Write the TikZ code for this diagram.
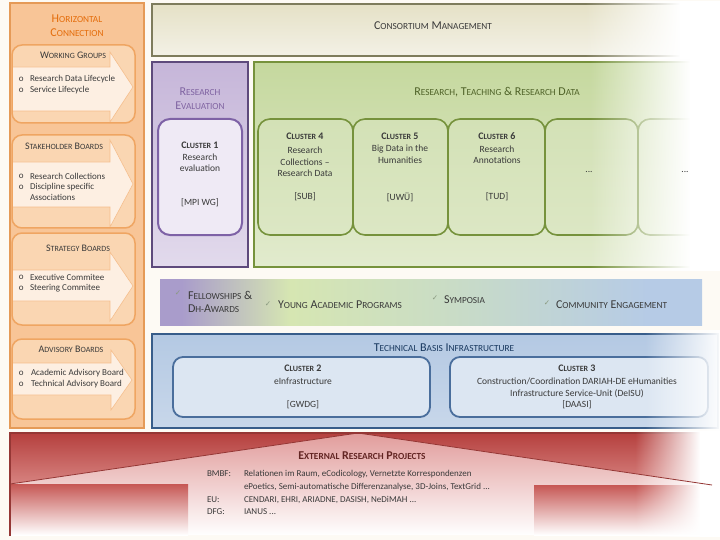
\documentclass[tikz,border=0pt]{standalone}
\usepackage{fontspec}
\setmainfont{Carlito}
\newfontfamily\djv{DejaVu Sans}
\usetikzlibrary{fadings}
\definecolor{bg}{HTML}{FDFAF4}
\definecolor{txt}{HTML}{3A3A3A}
\definecolor{orF}{HTML}{F8C597}
\definecolor{orB}{HTML}{E59A57}
\definecolor{subF}{HTML}{FAD6B2}
\definecolor{subB}{HTML}{EFA562}
\definecolor{arrF}{HTML}{FDEFE2}
\definecolor{arrB}{HTML}{F5BE8C}
\definecolor{orT}{HTML}{E46C0A}
\definecolor{consF}{HTML}{E5E1C6}
\definecolor{consF2}{HTML}{F3F1E6}
\definecolor{consB}{HTML}{7E7C5C}
\definecolor{purF}{HTML}{C6B6D9}
\definecolor{purF2}{HTML}{E2DAEC}
\definecolor{purB}{HTML}{5E4A7C}
\definecolor{purT}{HTML}{8064A2}
\definecolor{c1F}{HTML}{EFEAF5}
\definecolor{c1B}{HTML}{7E62A6}
\definecolor{grF}{HTML}{C5D89E}
\definecolor{grF2}{HTML}{E2EBCE}
\definecolor{grB}{HTML}{76923C}
\definecolor{grT}{HTML}{4F6228}
\definecolor{cgF}{HTML}{D3E1B6}
\definecolor{cgF2}{HTML}{DCE7C4}
\definecolor{cgB}{HTML}{76923C}
\definecolor{bandP}{HTML}{A99CCB}
\definecolor{bandG}{HTML}{D6E6B2}
\definecolor{bandG2}{HTML}{C9DCC6}
\definecolor{bandB}{HTML}{B6CBE6}
\definecolor{tF}{HTML}{B4C9E3}
\definecolor{tF2}{HTML}{C8D7EA}
\definecolor{tB}{HTML}{385D8A}
\definecolor{tT}{HTML}{17375E}
\definecolor{ctF}{HTML}{DCE6F2}
\definecolor{ctB}{HTML}{4A6E9C}
\definecolor{rD}{HTML}{B5403E}
\definecolor{rD2}{HTML}{D98784}
\definecolor{rM}{HTML}{E19C9B}
\definecolor{rLL}{HTML}{C65754}
\definecolor{rB}{HTML}{953735}
\definecolor{rT}{HTML}{632523}
\definecolor{chkC}{HTML}{8A9A80}
\pgfdeclarehorizontalshading{bandshade}{100bp}{color(0bp)=(bandP); color(27bp)=(bandP); color(37bp)=(bandG); color(52bp)=(bandG2); color(70bp)=(bandB); color(100bp)=(bandB)}
\tikzfading[name=fadeinR, left color=transparent!100, right color=transparent!0]
\newcommand\smA[1]{{\fontsize{9.3}{10}\selectfont\MakeUppercase{#1}}}
\newcommand\smB[1]{{\fontsize{8}{9}\selectfont\MakeUppercase{#1}}}
\begin{document}
\begin{tikzpicture}[x=1pt,y=-1pt,
  every node/.style={inner sep=0pt,outer sep=0pt,text=txt},
  vsh/.style 2 args={top color=#1, bottom color=#2},
  body/.style={font=\fontsize{9}{11}\selectfont},
  cbody/.style={font=\fontsize{9.5}{11.5}\selectfont},
  btitle/.style={font=\fontsize{12}{13}\selectfont},
  btitleb/.style={font=\bfseries\fontsize{12}{13}\selectfont},
  stitle/.style={font=\fontsize{10}{12}\selectfont},
  ctitle/.style={font=\bfseries\fontsize{10}{12}\selectfont},
  subbox/.style={fill=subF, rounded corners=10pt, minimum width=123pt, anchor=north west},
  subline/.style={draw=subB, line width=1.5pt, rounded corners=10pt},
  arrowst/.style={fill=arrF, draw=arrB, line width=0.6pt},
  gbox/.style={draw=cgB, line width=1.6pt, rounded corners=12pt, vsh={cgF}{cgF2}, anchor=north west, minimum height=116pt},
  tbox/.style={draw=ctB, line width=1.8pt, rounded corners=10pt, fill=ctF, anchor=north west, minimum height=60pt},
  chk/.style={font=\djv\fontsize{7.5}{8}\selectfont, text=chkC},
  whitefade/.style={fill=white, path fading=fadeinR},
  shadebox/.style={anchor=north west},
]
\useasboundingbox (0,0) rectangle (720,540);
\fill[bg] (0,0) rectangle (720,540);

% ---------- Horizontal connection ----------
\node[draw=orB, line width=1.5pt, fill=orF, anchor=north west, minimum width=134pt, minimum height=425pt] (hc) at (10,3) {};
\node[btitle, text=orT] (hct1) at (77,19) {H\smA{orizontal}};
\node[btitle, text=orT] (hct2) at (77,33) {C\smA{onnection}};

\node[subbox, minimum height=78pt] (wg) at (12,45) {};
\filldraw[arrowst] (12,67) -- (110,67) -- (110,52) -- (133,87) -- (110,122) -- (110,111) -- (12,111);
\draw[subline] (wg.north west) rectangle (wg.south east);
\node[stitle] (wgt) at (73,55) {W\smB{orking} G\smB{roups}};
\node[body, anchor=west] (wgb1) at (19,79) {o};
\node[body, anchor=west] (wgi1) at (30,79) {Research Data Lifecycle};
\node[body, anchor=west] (wgb2) at (19,90) {o};
\node[body, anchor=west] (wgi2) at (30,90) {Service Lifecycle};

\node[subbox, minimum height=93pt] (sb) at (12,135) {};
\filldraw[arrowst] (12,162) -- (110,162) -- (110,140) -- (133,184) -- (110,227) -- (110,207) -- (12,207);
\draw[subline] (sb.north west) rectangle (sb.south east);
\node[stitle] (sbt) at (64,146) {S\smB{takeholder} B\smB{oards}};
\node[body, anchor=west] (sbb1) at (19,176) {o};
\node[body, anchor=west] (sbi1) at (30,176) {Research Collections};
\node[body, anchor=west] (sbb2) at (19,187) {o};
\node[body, anchor=west, align=left] (sbi2) at (30,192) {Discipline specific\\Associations};

\node[subbox, minimum height=92pt] (st) at (12,233) {};
\filldraw[arrowst] (12,270) -- (110,270) -- (110,252) -- (133,286) -- (110,321) -- (110,301) -- (12,301);
\draw[subline] (st.north west) rectangle (st.south east);
\node[stitle] (stt) at (78,248) {S\smB{trategy} B\smB{oards}};
\node[body, anchor=west] (stb1) at (19,277) {o};
\node[body, anchor=west] (sti1) at (30,277) {Executive Commitee};
\node[body, anchor=west] (stb2) at (19,288) {o};
\node[body, anchor=west] (sti2) at (30,288) {Steering Commitee};

\node[subbox, minimum height=80pt] (ab) at (12,339) {};
\filldraw[arrowst] (12,363) -- (111,363) -- (111,350) -- (132,380) -- (111,410) -- (111,395) -- (12,395);
\draw[subline] (ab.north west) rectangle (ab.south east);
\node[stitle] (abt) at (71,349) {A\smB{dvisory} B\smB{oards}};
\node[body, anchor=west] (abb1) at (19,373) {o};
\node[body, anchor=west] (abi1) at (31,373) {Academic Advisory Board};
\node[body, anchor=west] (abb2) at (19,384) {o};
\node[body, anchor=west] (abi2) at (31,384) {Technical Advisory Board};

% ---------- Consortium management ----------
\node[draw=consB, line width=2.5pt, vsh={consF}{consF2}, anchor=north west, minimum width=566pt, minimum height=52pt] (cm) at (152,4) {};
\fill[whitefade] (585,1) rectangle (680,59);
\fill[white] (680,1) rectangle (720,59);
\node[btitle] (cmt) at (433,26) {C\smA{onsortium} M\smA{anagement}};

% ---------- Research evaluation ----------
\node[draw=purB, line width=2pt, vsh={purF}{purF2}, anchor=north west, minimum width=96pt, minimum height=205pt] (re) at (152,62) {};
\node[btitle, text=purT] (ret1) at (200,92) {R\smA{esearch}};
\node[btitle, text=purT] (ret2) at (200,106) {E\smA{valuation}};
\node[draw=c1B, line width=2pt, rounded corners=12pt, fill=c1F, anchor=north west, minimum width=84pt, minimum height=116pt] (c1) at (158,119) {};
\node[ctitle] (c1t) at (200,145) {C\smB{luster} 1};
\node[cbody] (c1a) at (200,157) {Research};
\node[cbody] (c1b) at (200,168) {evaluation};
\node[cbody] (c1c) at (200,203) {[MPI WG]};

% ---------- Research, teaching & research data ----------
\node[draw=grB, line width=2pt, vsh={grF}{grF2}, anchor=north west, minimum width=464pt, minimum height=205pt] (rt) at (254,62) {};
\node[gbox, minimum width=95pt] (c4) at (258,119) {};
\node[gbox, minimum width=95pt] (c5) at (353,119) {};
\node[gbox, minimum width=97pt] (c6) at (448,119) {};
\node[gbox, minimum width=93pt] (d1) at (545,119) {};
\node[gbox, minimum width=80pt] (d2) at (638,119) {};
\fill[whitefade] (590,58) rectangle (690,271);
\fill[white] (690,58) rectangle (720,271);
\node[btitle, text=grT] (rtt) at (497,92) {R\smA{esearch}, T\smA{eaching} \& R\smA{esearch} D\smA{ata}};
\node[ctitle] (c4t) at (305,136) {C\smB{luster} 4};
\node[cbody] (c4a) at (305,150) {Research};
\node[cbody] (c4b) at (305,162) {Collections --};
\node[cbody] (c4c) at (305,173) {Research Data};
\node[cbody] (c4d) at (305,197) {[SUB]};
\node[ctitle] (c5t) at (400,136) {C\smB{luster} 5};
\node[cbody] (c5a) at (400,149) {Big Data in the};
\node[cbody] (c5b) at (400,160) {Humanities};
\node[cbody] (c5d) at (400,197) {[UWÜ]};
\node[ctitle] (c6t) at (497,136) {C\smB{luster} 6};
\node[cbody] (c6a) at (497,149) {Research};
\node[cbody] (c6b) at (497,160) {Annotations};
\node[cbody] (c6d) at (497,197) {[TUD]};
\node[cbody] (d1t) at (589,172) {...};
\node[cbody] (d2t) at (685,172) {...};

% ---------- Fellowships band ----------
\node[shading=bandshade, anchor=north west, minimum width=542pt, minimum height=46pt] (fw) at (160,279) {};
\node[chk] (k1) at (178,293) {✓};
\node[btitle, anchor=west, align=left] (fw1) at (188,302) {F\smA{ellowships} \&\\D\smA{H-}A\smA{wards}};
\node[chk] (k2) at (268,304) {✓};
\node[btitle, anchor=west] (fw2) at (278,305) {Y\smA{oung} A\smA{cademic} P\smA{rograms}};
\node[chk] (k3) at (435,298) {✓};
\node[btitle, anchor=west] (fw3) at (444,300) {S\smA{ymposia}};
\node[chk] (k4) at (547,303) {✓};
\node[btitle, anchor=west] (fw4) at (556,305) {C\smA{ommunity} E\smA{ngagement}};

% ---------- Technical basis ----------
\node[draw=tB, line width=2pt, vsh={tF}{tF2}, anchor=north west, minimum width=566pt, minimum height=94pt] (tb) at (152,334) {};
\node[tbox, minimum width=257pt] (c2) at (173,357) {};
\node[tbox, minimum width=258pt] (c3) at (450,357) {};
\fill[whitefade] (645,330) rectangle (722,432);
\node[btitle, text=tT] (tbt) at (444,348) {T\smA{echnical} B\smA{asis} I\smA{nfrastructure}};
\node[ctitle] (c2t) at (303,368) {C\smB{luster} 2};
\node[cbody] (c2a) at (303,381) {eInfrastructure};
\node[cbody] (c2d) at (303,405) {[GWDG]};
\node[ctitle] (c3t) at (577,368) {C\smB{luster} 3};
\node[cbody] (c3a) at (577,381) {Construction/Coordination DARIAH-DE eHumanities};
\node[cbody] (c3b) at (577,394) {Infrastructure Service-Unit (DeISU)};
\node[cbody] (c3d) at (577,405) {[DAASI]};

% ---------- External research projects ----------
\node[shadebox, vsh={rD}{rD2}, minimum width=706pt, minimum height=54pt] (rup) at (10,433) {};
\begin{scope}
\clip (10,484) -- (358,433) -- (712,485) -- (712,535) -- (10,535) -- cycle;
\node[shadebox, vsh={rM}{white}, minimum width=702pt, minimum height=102pt] (rmid) at (10,433) {};
\end{scope}
\node[shadebox, vsh={rLL}{white}, minimum width=178pt, minimum height=51pt] (rll) at (10,484) {};
\node[shadebox, vsh={rLL}{white}, minimum width=178pt, minimum height=50pt] (rlr) at (534,485) {};
\draw[rB, line width=2pt] (10,536) -- (10,433) -- (716,433);
\fill[whitefade] (635,431) rectangle (700,537);
\fill[white] (700,431) rectangle (720,537);
\coordinate (rl) at (10,484);
\coordinate (apex) at (358,433);
\coordinate (rr) at (712,485);
\draw[rB, line width=0.8pt] (rl) -- (apex) -- (rr);
\node[btitleb, text=rT] (ert) at (362,456) {E\smA{xternal} R\smA{esearch} P\smA{rojects}};
\node[body, anchor=west] (l1) at (207,474) {BMBF:};
\node[body, anchor=west] (t1) at (244,474) {Relationen im Raum, eCodicology, Vernetzte Korrespondenzen};
\node[body, anchor=west] (t2) at (244,487) {ePoetics, Semi-automatische Differenzanalyse, 3D-Joins, TextGrid ...};
\node[body, anchor=west] (l3) at (207,500) {EU:};
\node[body, anchor=west] (t3) at (244,500) {CENDARI, EHRI, ARIADNE, DASISH, NeDiMAH ...};
\node[body, anchor=west] (l4) at (207,512) {DFG:};
\node[body, anchor=west] (t4) at (244,512) {IANUS ...};
\end{tikzpicture}
\end{document}
